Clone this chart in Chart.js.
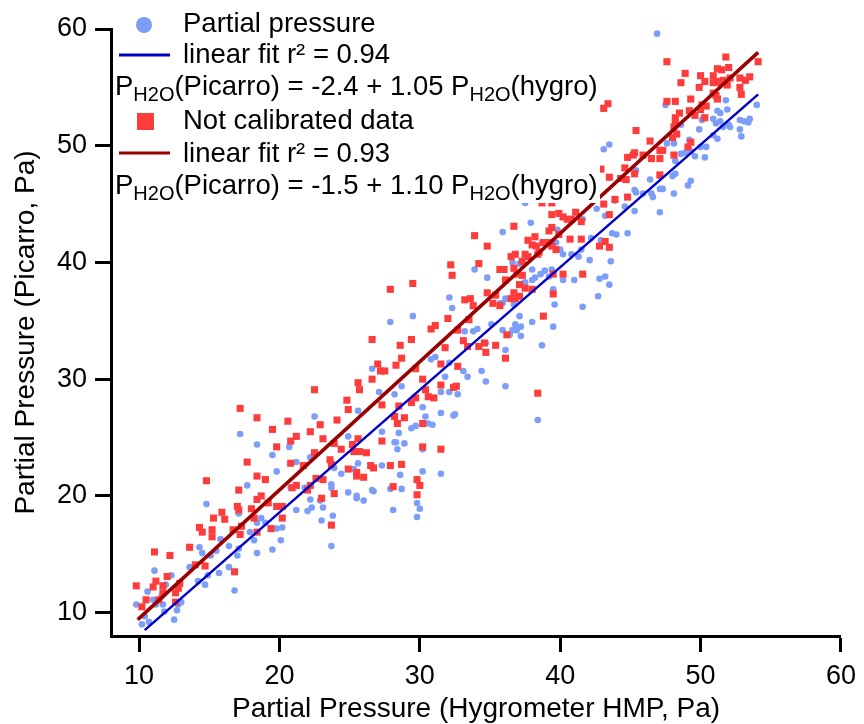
<!DOCTYPE html>
<html>
<head>
<meta charset="utf-8">
<script src="https://cdn.jsdelivr.net/npm/chart.js@4.4.1/dist/chart.umd.min.js"></script>
<style>
  html, body { margin: 0; padding: 0; background: #fff; }
  #wrap { width: 864px; height: 724px; }
</style>
</head>
<body>
<div id="wrap"><canvas id="chart" width="864" height="724"></canvas></div>
<script>
// Partial pressure (calibrated), [hygrometer, picarro] in Pa
const partialPts = [
  [22.5,26.8],[17.2,25.3],[18.4,24.4],[20.7,24.2],[19.5,23.5],[22.2,23.3],[21.2,22.9],[19.8,22.1],[17.7,20.9],[20.8,20.7],
  [21.8,20.7],[14.8,19.3],[22.9,19.6],[22.2,19.7],[17.1,18.5],[18.7,18.1],[19.0,17.7],[18.4,17.7],[17.9,16.9],[19.8,17.2],
  [20.2,17.3],[18.2,16.2],[20.1,16.2],[19.5,15.4],[18.4,15.1],[21.2,18.8],[22.0,18.7],[22.3,19.0],[23.0,17.9],[23.1,19.0],
  [14.3,15.6],[14.5,15.1],[15.5,15.3],[15.8,16.3],[16.4,15.7],[17.1,15.5],[17.0,14.9],[15.1,14.9],[15.7,13.4],[13.6,13.9],
  [14.9,13.2],[14.2,12.7],[14.7,12.4],[16.4,13.9],[16.8,11.9],[11.1,13.6],[12.3,13.2],[11.9,12.4],[10.6,11.8],[9.8,10.7],
  [11.0,11.1],[11.2,10.7],[11.7,10.7],[11.6,11.4],[12.8,10.7],[13.0,10.9],[12.7,10.2],[11.8,10.1],[10.4,9.7],[10.2,9.0],
  [10.7,9.2],[12.5,9.4],
  [32.1,37.0],[32.3,36.1],[29.5,35.4],[27.9,34.9],[33.2,34.1],[33.8,34.1],[31.1,31.9],[30.8,31.7],[32.1,31.4],[26.6,30.9],
  [33.1,30.7],[33.4,30.2],[31.8,30.2],[28.7,29.4],[27.1,28.9],[28.2,28.7],[31.5,28.9],[32.1,28.9],[32.7,28.7],[30.2,27.6],
  [31.5,27.1],[32.4,26.9],[32.5,27.0],[25.6,27.3],[30.4,26.8],[30.6,26.2],[30.9,26.1],[29.4,25.8],[29.7,26.0],[27.3,25.5],
  [28.5,25.4],[24.9,25.1],[28.2,24.6],[28.3,24.6],[28.9,24.5],[28.4,24.0],[30.2,24.0],[25.6,22.8],[27.3,22.6],[28.6,21.8],
  [30.2,22.1],[31.5,21.9],[24.4,21.9],[23.9,22.4],[25.3,22.3],[23.7,21.0],[23.7,20.7],[24.9,20.3],[25.5,20.0],[25.5,19.8],
  [26.0,19.6],[26.6,20.5],[26.7,20.4],[27.9,20.6],[28.7,20.6],[23.8,18.3],[28.1,18.8],[30.0,18.9],[29.8,18.2],[23.7,15.7],
  [29.8,19.4],[38.4,26.5],
  [37.5,45.1],[35.9,42.6],[37.9,43.4],[41.6,43.7],[42.6,44.6],[43.2,44.0],[43.9,45.3],[39.8,42.8],[38.7,41.7],[39.7,41.7],
  [40.0,41.1],[40.2,40.7],[40.8,40.7],[41.3,40.5],[42.1,40.2],[41.5,41.1],[42.2,42.1],[42.9,41.9],[43.7,42.5],[44.0,42.4],
  [43.6,40.1],[33.9,39.4],[34.8,38.7],[36.6,40.0],[37.1,39.9],[38.0,39.4],[38.2,38.7],[38.6,39.0],[38.9,39.3],[39.2,38.8],
  [39.4,39.4],[38.0,38.5],[37.5,38.3],[37.3,38.1],[39.5,37.7],[40.2,38.5],[41.0,38.5],[42.8,38.6],[43.2,38.8],[43.5,38.1],
  [41.6,36.2],[42.7,37.1],[39.6,36.4],[38.0,34.9],[39.5,34.5],[38.7,32.9],[36.1,36.9],[35.7,36.5],[35.9,36.5],[36.7,36.4],
  [37.1,35.4],[36.8,34.7],[37.2,34.5],[36.9,34.2],[37.2,33.7],[36.1,32.5],[36.4,33.8],[36.6,34.2],[35.9,34.2],[35.1,34.7],
  [34.1,34.3],[34.7,33.1],[36.1,29.4],[34.7,29.8],[34.4,30.7],
  [46.9,59.6],[51.8,53.9],[47.5,53.5],[51.2,53.0],[51.9,53.1],[51.4,52.8],[54.0,53.5],[50.9,52.3],[50.2,52.4],[51.1,51.9],
  [51.4,52.1],[51.6,51.6],[52.0,51.8],[52.1,51.6],[52.8,52.2],[53.1,52.1],[53.4,52.0],[53.5,52.3],[52.8,51.4],[52.9,50.8],
  [50.1,52.2],[49.9,51.4],[48.6,51.8],[50.9,50.9],[51.2,50.6],[49.2,50.5],[47.6,50.2],[48.1,50.2],[50.0,49.9],[50.4,49.9],
  [49.3,49.5],[49.6,49.1],[50.3,49.0],[48.9,49.4],[48.6,49.3],[48.2,48.7],[43.1,49.7],[43.5,50.1],[45.4,47.9],[47.1,47.4],
  [46.4,47.1],[48.2,47.6],[48.0,47.4],[49.3,47.0],[49.1,46.6],[45.3,46.2],[45.4,46.0],[45.9,45.9],[46.5,45.9],[46.6,45.6],
  [47.1,46.3],[47.3,46.3],[48.1,45.9],[45.3,44.4],[47.1,44.3],[44.6,44.8],[44.8,42.5]
];

// Not calibrated data
const uncalPts = [
  [17.2,27.5],[18.4,26.7],[20.6,26.4],[22.9,26.1],[19.5,25.7],[22.2,25.5],[21.2,25.1],[20.8,24.7],[23.1,24.9],[19.8,24.2],
  [22.5,23.7],[17.7,22.9],[20.8,22.8],[21.7,22.6],[18.4,21.7],[19.0,21.4],[14.8,21.3],[22.6,21.5],[23.1,21.4],[22.2,20.9],
  [17.1,20.5],[21.2,20.9],[22.0,20.5],[20.9,20.7],[18.7,20.0],[18.4,19.7],[19.2,19.4],[23.0,19.8],[17.0,19.1],[15.9,18.6],
  [17.1,18.8],[18.0,18.9],[19.8,19.1],[20.2,19.1],[15.3,18.1],[16.1,18.0],[18.2,18.1],[20.2,18.1],[14.3,17.3],[15.2,17.1],
  [14.5,16.9],[16.7,17.1],[17.3,17.4],[15.2,16.5],[17.2,16.7],[18.4,16.9],[19.4,17.2],[13.6,15.6],[11.1,15.2],[12.2,14.9],
  [14.0,14.1],[14.7,14.0],[16.8,13.5],[12.0,13.1],[11.2,12.7],[11.0,12.2],[11.7,12.3],[12.9,12.5],[9.8,12.3],[12.8,12.1],
  [11.7,11.7],[12.6,11.7],[10.5,11.1],[10.2,10.5],[11.4,11.1],[12.6,10.9],
  [29.5,38.2],[27.9,37.7],[33.2,36.8],[33.6,36.9],[33.8,36.3],[32.0,35.2],[33.5,35.1],[31.1,34.6],[30.8,34.3],[32.7,34.2],
  [26.6,33.4],[29.4,33.4],[28.6,32.9],[33.1,33.3],[31.8,32.7],[33.4,32.8],[28.7,31.8],[27.0,31.3],[28.3,31.2],[27.2,30.7],
  [27.5,30.7],[29.7,30.9],[31.5,31.3],[32.7,31.1],[26.6,30.0],[30.2,30.0],[25.6,29.7],[25.7,29.1],[22.5,29.1],[31.5,29.5],
  [32.4,29.3],[32.6,29.4],[30.4,29.1],[30.6,28.5],[31.0,28.4],[24.8,28.2],[29.7,28.4],[29.4,28.0],[28.5,27.7],[27.3,27.8],
  [24.9,27.4],[28.2,26.8],[28.9,26.7],[28.4,26.2],[30.2,26.2],[24.1,26.5],[23.9,24.5],[25.2,24.4],[25.6,24.9],[24.4,24.0],
  [25.3,23.8],[25.7,23.8],[26.2,23.7],[27.3,24.7],[30.2,24.2],[31.5,24.0],[23.6,23.1],[23.7,22.7],[24.9,22.3],[25.5,22.0],
  [25.5,21.7],[26.0,21.6],[26.5,22.6],[26.7,22.4],[27.9,22.6],[28.7,22.7],[23.9,20.2],[28.1,20.8],[29.8,21.4],[30.0,20.9],
  [29.8,20.1],[23.7,17.5],
  [42.5,47.8],[42.5,46.8],[42.5,45.7],[38.7,45.1],[39.4,45.1],[43.1,45.0],[43.9,45.4],[39.4,44.1],[39.9,44.2],[40.2,43.9],
  [40.5,43.7],[40.8,43.7],[41.1,44.3],[41.5,43.5],[43.5,44.1],[36.7,43.1],[39.4,43.0],[39.2,42.7],[38.2,42.2],[39.9,42.4],
  [33.9,42.3],[37.7,41.9],[38.0,41.5],[38.3,41.4],[38.8,41.7],[39.2,41.7],[39.4,41.4],[39.7,41.1],[38.5,40.9],[34.8,41.4],
  [40.7,42.0],[41.5,42.0],[43.2,41.8],[42.8,41.4],[43.5,41.3],[36.8,40.7],[36.5,40.5],[37.5,40.7],[37.7,40.5],[37.3,40.1],
  [38.4,40.7],[32.2,39.8],[34.2,39.9],[35.7,39.4],[36.0,39.4],[36.7,39.5],[36.9,39.0],[32.3,38.9],[36.1,38.5],[37.3,38.9],
  [37.1,38.1],[39.5,39.0],[40.2,39.0],[41.6,39.0],[34.8,37.4],[35.4,37.2],[36.7,37.4],[37.5,37.8],[38.0,37.7],[39.5,37.3],
  [36.5,36.9],[36.8,36.9],[37.1,37.1],[35.2,36.5],[35.7,36.3],[38.8,35.4],[34.6,33.1],[35.4,32.9],[34.2,32.8],[34.7,32.3],
  [36.2,33.8],[36.1,31.8],[38.4,28.8],
  [51.8,57.6],[47.6,57.2],[54.1,57.2],[51.2,56.6],[52.0,56.7],[51.5,56.5],[48.9,56.2],[50.0,56.0],[50.9,56.0],[52.8,55.8],
  [53.2,55.6],[53.5,55.9],[52.1,55.8],[50.3,55.5],[51.2,55.5],[51.6,55.6],[48.6,55.4],[50.9,55.4],[51.4,55.4],[51.9,55.2],
  [49.9,55.0],[52.8,55.0],[52.9,54.4],[50.9,54.5],[51.1,54.3],[51.2,54.0],[49.3,54.0],[47.6,53.8],[48.2,53.8],[43.1,53.2],
  [43.4,53.6],[50.1,53.5],[50.4,53.4],[50.0,53.1],[48.5,52.8],[49.2,53.0],[49.6,52.6],[50.3,52.4],[48.2,52.4],[48.2,52.0],
  [48.1,51.6],[48.3,51.0],[48.0,50.7],[45.4,51.3],[46.4,50.4],[49.3,50.3],[49.1,49.9],[47.1,49.6],[47.3,49.6],[48.1,49.2],
  [47.1,48.9],[45.3,49.4],[45.2,49.2],[44.8,49.0],[45.9,49.2],[46.5,48.9],[44.6,48.1],[42.9,48.0],[45.3,47.6],[43.5,47.3],
  [44.3,47.2],[44.7,47.1],[47.1,47.5],[44.8,45.6]
];

// Fit line end points
const partialFit = [[10.4, 8.5], [54.1, 54.4]];
const uncalFit = [[9.9, 9.4], [54.1, 58.0]];

// Axes
const xTicks = [10, 20, 30, 40, 50, 60];
const yTicks = [10, 20, 30, 40, 50, 60];

const FONT = '"Liberation Sans", Arial, sans-serif';
const BLUE_PT = 'rgb(124,158,248)';
const RED_PT = 'rgb(255,60,60)';
const BLUE_LN = '#0000c8';
const RED_LN = '#990000';

const toXY = pts => pts.map(p => ({ x: p[0], y: p[1] }));

// draw text with H2O subscripts
function drawRich(ctx, x, y, parts) {
    parts.forEach(([txt, sub]) => {
        ctx.font = sub ? `20px ${FONT}` : `27.5px ${FONT}`;
        ctx.fillText(txt, x, sub ? y + 6 : y);
        x += ctx.measureText(txt).width;
    });
}

const legendBox = {
    id: 'legendBox',
    afterDatasetsDraw(chart) {
        const ctx = chart.ctx;
        ctx.save();
        ctx.fillStyle = '#fff';
        ctx.fillRect(114, 0, 486, 203);

        // symbols
        ctx.fillStyle = BLUE_PT;
        ctx.beginPath();
        ctx.arc(144, 25, 8, 0, Math.PI * 2);
        ctx.fill();
        ctx.fillStyle = RED_PT;
        ctx.fillRect(137, 113, 17, 17);
        ctx.lineWidth = 3;
        ctx.strokeStyle = BLUE_LN;
        ctx.beginPath(); ctx.moveTo(119, 55); ctx.lineTo(170, 55); ctx.stroke();
        ctx.strokeStyle = RED_LN;
        ctx.beginPath(); ctx.moveTo(119, 153); ctx.lineTo(170, 153); ctx.stroke();

        // texts
        ctx.fillStyle = '#000';
        ctx.textBaseline = 'alphabetic';
        ctx.textAlign = 'left';
        drawRich(ctx, 183, 32, [['Partial pressure', false]]);
        drawRich(ctx, 183, 63, [['linear fit r\u00b2 = 0.94', false]]);
        drawRich(ctx, 115, 95, [['P', false], ['H2O', true], ['(Picarro) = -2.4 + 1.05 P', false], ['H2O', true], ['(hygro)', false]]);
        drawRich(ctx, 183, 129, [['Not calibrated data', false]]);
        drawRich(ctx, 183, 162, [['linear fit r\u00b2 = 0.93', false]]);
        drawRich(ctx, 115, 194, [['P', false], ['H2O', true], ['(Picarro) = -1.5 + 1.10 P', false], ['H2O', true], ['(hygro)', false]]);
        ctx.restore();
    }
};

const axisCommon = {
    type: 'linear',
    min: 8,
    max: 60,
    border: { display: true, width: 3, color: '#000' },
    grid: { display: true, drawOnChartArea: false, drawTicks: true, tickLength: 16, tickWidth: 3, tickColor: '#000' },
    ticks: { color: '#000', font: { family: FONT, size: 27 }, padding: 8 }
};

new Chart(document.getElementById('chart'), {
    type: 'scatter',
    data: {
        datasets: [
            {
                type: 'line', label: 'fit uncal', data: toXY(uncalFit),
                borderColor: RED_LN, borderWidth: 3.5, pointRadius: 0, fill: false, order: 0
            },
            {
                type: 'line', label: 'fit partial', data: toXY(partialFit),
                borderColor: BLUE_LN, borderWidth: 2.5, pointRadius: 0, fill: false, order: 0
            },
            {
                label: 'Not calibrated data', data: toXY(uncalPts),
                pointStyle: 'rect', pointRadius: 5, backgroundColor: RED_PT, borderWidth: 0, order: 1
            },
            {
                label: 'Partial pressure', data: toXY(partialPts),
                pointStyle: 'circle', pointRadius: 3.3, backgroundColor: BLUE_PT, borderWidth: 0, order: 2
            }
        ]
    },
    options: {
        responsive: false,
        animation: false,
        devicePixelRatio: 1,
        layout: { padding: { top: 29, right: 16, left: 0, bottom: 0 } },
        plugins: { legend: { display: false }, tooltip: { enabled: false } },
        scales: {
            x: {
                ...axisCommon,
                position: 'bottom',
                afterBuildTicks: scale => { scale.ticks = xTicks.map(v => ({ value: v })); },
                afterFit: scale => { scale.height = 88; },
                title: {
                    display: true, text: 'Partial Pressure (Hygrometer HMP, Pa)', color: '#000',
                    font: { family: FONT, size: 28 }, padding: { top: 0, bottom: -2 }
                }
            },
            y: {
                ...axisCommon,
                position: 'left',
                afterBuildTicks: scale => { scale.ticks = yTicks.map(v => ({ value: v })); },
                afterFit: scale => { scale.width = 111; },
                title: {
                    display: true, text: 'Partial Pressure (Picarro, Pa)', color: '#000',
                    font: { family: FONT, size: 28 }, padding: { top: 9, bottom: 0 }
                }
            }
        }
    },
    plugins: [legendBox]
});
</script>
</body>
</html>
